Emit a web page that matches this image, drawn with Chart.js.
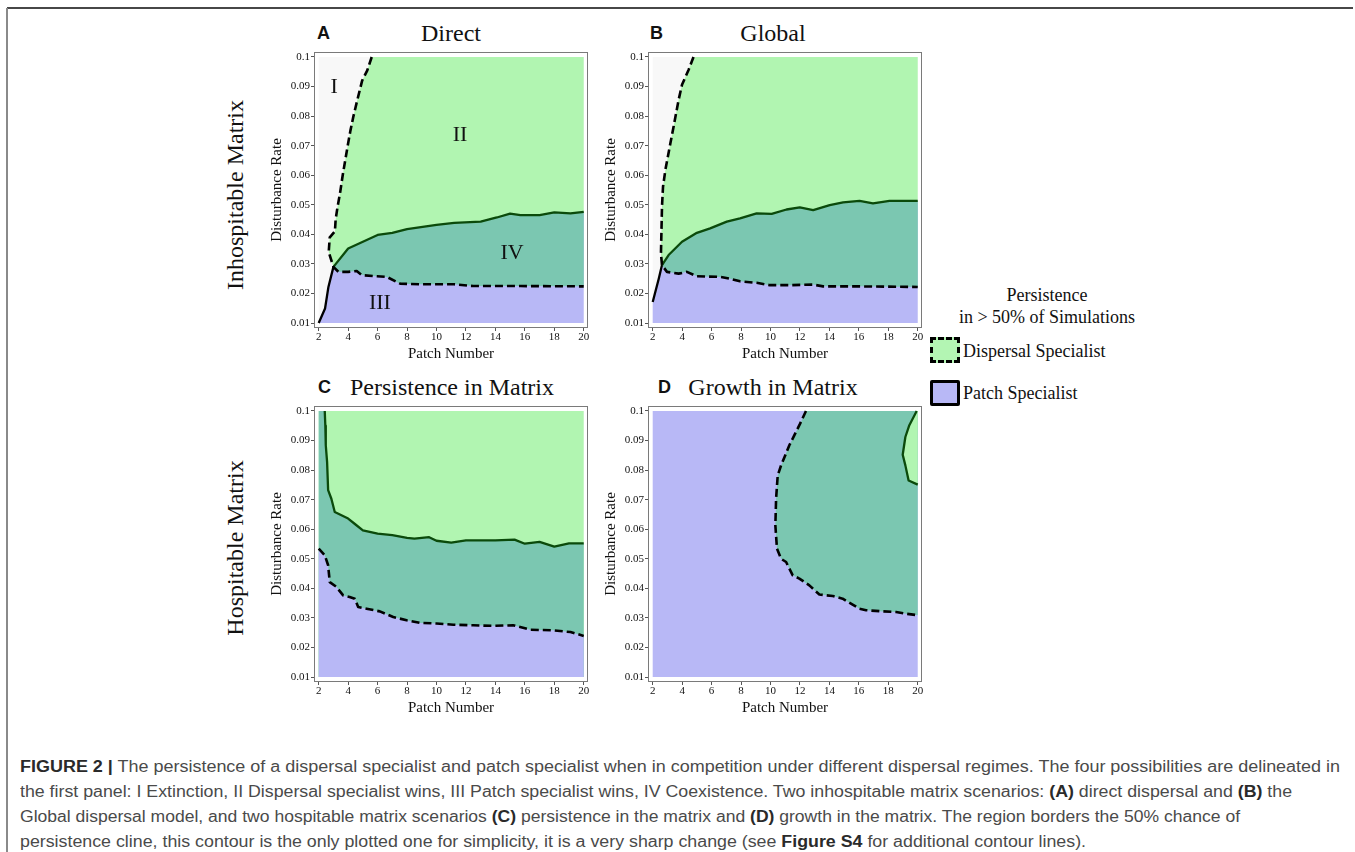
<!DOCTYPE html>
<html>
<head>
<meta charset="utf-8">
<script src="https://cdn.jsdelivr.net/npm/chart.js@4.4.1/dist/chart.umd.min.js"></script>
<style>
  html, body { margin: 0; padding: 0; }
  body { width: 1355px; height: 852px; position: relative; overflow: hidden; background: #fff; font-family: "Liberation Serif", "Times New Roman", serif; color: #111; }
  .frameTop { position: absolute; left: 7px; top: 7px; width: 1346px; height: 0; border-top: 2px solid #474747; }
  .frameLeft { position: absolute; left: 6px; top: 8px; width: 0; height: 850px; border-left: 2px solid #8a8a8a; }
  canvas { position: absolute; }
  .t { position: absolute; white-space: nowrap; line-height: 1; }
  .c { transform: translate(-50%, -50%); }
  .rot { transform: translate(-50%, -50%) rotate(-90deg); }
  .letter { font-family: "Liberation Sans", Arial, sans-serif; font-weight: bold; font-size: 18px; transform: translateY(-50%); color: #111; }
  .ptitle { font-size: 24px; }
  .row { font-size: 24px; }
  .leg { font-size: 18px; }
  .box { position: absolute; box-sizing: border-box; }
  .cap { position: absolute; left: 20px; white-space: nowrap; font-family: "Liberation Sans", Arial, sans-serif; font-size: 16px; line-height: 18px; color: #4a4a4a; transform-origin: 0 50%; }
  .cap b { color: #2a2a2a; }
</style>
</head>
<body>
<div class="frameTop"></div>
<div class="frameLeft"></div>

<!-- row labels -->
<div class="t rot row" style="left:235px; top:195px;">Inhospitable Matrix</div>
<div class="t rot row" style="left:235px; top:548px;">Hospitable Matrix</div>

<!-- panel headings -->
<div class="t letter" style="left:317px; top:33px;">A</div>
<div class="t c ptitle" style="left:451px; top:33px;">Direct</div>
<div class="t letter" style="left:650px; top:33px;">B</div>
<div class="t c ptitle" style="left:773px; top:33px;">Global</div>
<div class="t letter" style="left:318px; top:387px;">C</div>
<div class="t c ptitle" style="left:452px; top:387px;">Persistence in Matrix</div>
<div class="t letter" style="left:658px; top:387px;">D</div>
<div class="t c ptitle" style="left:773px; top:387px;">Growth in Matrix</div>

<canvas id="cA" width="332" height="322" style="left:262px; top:44px;"></canvas>
<canvas id="cB" width="332" height="322" style="left:596px; top:44px;"></canvas>
<canvas id="cC" width="332" height="322" style="left:262px; top:398px;"></canvas>
<canvas id="cD" width="332" height="322" style="left:596px; top:398px;"></canvas>

<!-- legend -->
<div class="t c leg" style="left:1047px; top:295px;">Persistence</div>
<div class="t c leg" style="left:1047px; top:317px;">in &gt; 50% of Simulations</div>
<div class="box" style="left:930px; top:337px; width:30px; height:26px; border:3px dashed #000; background:#b3f5b3;"></div>
<div class="t leg" style="left:963px; top:351px; transform:translateY(-50%);">Dispersal Specialist</div>
<div class="box" style="left:930px; top:380px; width:30px; height:26px; border:3px solid #000; border-radius:2px; background:#b8b8f6;"></div>
<div class="t leg" style="left:963px; top:393px; transform:translateY(-50%);">Patch Specialist</div>

<!-- caption (data-w = line width measured on the reference) -->
<div class="cap" data-w="1320" style="top:758px;"><b>FIGURE 2 |</b> The persistence of a dispersal specialist and patch specialist when in competition under different dispersal regimes. The four possibilities are delineated in</div>
<div class="cap" data-w="1272" style="top:783px;">the first panel: I Extinction, II Dispersal specialist wins, III Patch specialist wins, IV Coexistence. Two inhospitable matrix scenarios: <b>(A)</b> direct dispersal and <b>(B)</b> the</div>
<div class="cap" data-w="1220" style="top:808px;">Global dispersal model, and two hospitable matrix scenarios <b>(C)</b> persistence in the matrix and <b>(D)</b> growth in the matrix. The region borders the 50% chance of</div>
<div class="cap" data-w="1066" style="top:833px;">persistence cline, this contour is the only plotted one for simplicity, it is a very sharp change (see <b>Figure S4</b> for additional contour lines).</div>

<script>
// ---------- axes ----------
const xTicks = [2, 4, 6, 8, 10, 12, 14, 16, 18, 20];
const xTickLabels = ['2', '4', '6', '8', '10', '12', '14', '16', '18', '20'];
const yTicks = [0.01, 0.02, 0.03, 0.04, 0.05, 0.06, 0.07, 0.08, 0.09, 0.1];
const yTickLabels = ['0.01', '0.02', '0.03', '0.04', '0.05', '0.06', '0.07', '0.08', '0.09', '0.1'];
const xDomain = [2, 20];
const yDomain = [0.01, 0.1];

// ---------- Panel A: Direct ----------
// dispersal specialist 50% contour (dashed), upper-left branch then lower branch
const A_dispUpperX = [5.6, 5.3, 4.95, 4.8, 4.6, 4.36, 4.15, 3.97, 3.8, 3.63, 3.45, 3.27, 3.15, 3.1, 2.75, 2.68, 3.0];
const A_dispUpperY = [0.1, 0.0955, 0.092, 0.089, 0.085, 0.080, 0.075, 0.070, 0.065, 0.060, 0.054, 0.049, 0.045, 0.041, 0.039, 0.034, 0.029];
const A_dispLowerX = [3.34, 4.0, 4.58, 4.93, 5.95, 6.63, 7.53, 8.9, 11.2, 12.5, 15.7, 20];
const A_dispLowerY = [0.0273, 0.0273, 0.0276, 0.0262, 0.0258, 0.0256, 0.0233, 0.0231, 0.0231, 0.0225, 0.0225, 0.0224];
// patch specialist 50% contour (solid)
const A_patchLowX = [2, 2.43, 2.66, 3.0];
const A_patchLowY = [0.01, 0.0149, 0.0222, 0.029];
const A_patchHighX = [3.0, 4.0, 5.0, 6.0, 7.0, 8.0, 10.0, 11.2, 13.0, 14.1, 15.0, 15.7, 17.0, 18.0, 19.1, 20];
const A_patchHighY = [0.029, 0.0352, 0.0375, 0.0398, 0.0405, 0.0418, 0.0432, 0.0439, 0.0443, 0.0457, 0.0470, 0.0465, 0.0465, 0.0474, 0.0471, 0.0476];
const A_regionLabels = ['I', 'II', 'III', 'IV'];
const A_regionX = [3.05, 11.6, 6.16, 15.13];
const A_regionY = [0.0898, 0.0736, 0.0168, 0.0337];

// ---------- Panel B: Global ----------
const B_dispUpperX = [4.77, 4.44, 3.99, 3.76, 3.42, 3.2, 2.86, 2.70, 2.63, 2.56, 2.63];
const B_dispUpperY = [0.1, 0.0957, 0.0906, 0.0855, 0.0765, 0.0708, 0.0618, 0.0561, 0.0493, 0.0335, 0.0296];
const B_dispLowerX = [2.97, 3.76, 4.32, 5.0, 6.58, 7.26, 7.93, 9.06, 9.96, 11.3, 12.9, 13.57, 15.8, 20];
const B_dispLowerY = [0.0273, 0.0267, 0.0273, 0.0258, 0.0256, 0.025, 0.0241, 0.0236, 0.0228, 0.0228, 0.023, 0.0224, 0.0224, 0.0222];
const B_patchLowX = [2, 2.41, 2.63];
const B_patchLowY = [0.0171, 0.025, 0.0296];
const B_patchHighX = [2.63, 3.08, 3.99, 5.0, 5.9, 7.03, 7.93, 9.06, 10.08, 11.09, 11.99, 12.9, 14.02, 14.93, 16.05, 16.96, 18.08, 20];
const B_patchHighY = [0.0296, 0.033, 0.0375, 0.0405, 0.042, 0.0443, 0.0454, 0.0471, 0.0469, 0.0484, 0.0491, 0.0482, 0.0499, 0.0508, 0.0513, 0.0505, 0.0513, 0.0513];

// ---------- Panel C: Persistence in Matrix ----------
const C_patchX = [2.41, 2.45, 2.48, 2.57, 2.64, 2.86, 3.09, 4.0, 4.5, 5.0, 6.0, 7.0, 8.0, 8.5, 9.5, 10.0, 11.0, 12.0, 14.0, 15.3, 16.0, 17.0, 18.0, 19.0, 20];
const C_patchY = [0.1, 0.095, 0.0884, 0.0827, 0.0732, 0.0703, 0.0658, 0.0636, 0.0616, 0.0596, 0.0585, 0.058, 0.0571, 0.0568, 0.0573, 0.0561, 0.0555, 0.0562, 0.0562, 0.0565, 0.0551, 0.0557, 0.0541, 0.0552, 0.0552];
const C_dispX = [2, 2.41, 2.64, 2.75, 3.2, 3.66, 4.1, 4.45, 4.68, 5.25, 6.15, 7.06, 7.97, 8.88, 10.0, 11.15, 12.5, 13.87, 15.2, 16.37, 17.96, 19.1, 20];
const C_dispY = [0.0534, 0.0512, 0.0478, 0.0421, 0.0405, 0.0376, 0.0371, 0.0365, 0.0337, 0.0331, 0.0322, 0.0303, 0.0292, 0.0283, 0.0281, 0.0277, 0.0275, 0.0273, 0.0275, 0.026, 0.0258, 0.0252, 0.0239];

// ---------- Panel D: Growth in Matrix ----------
const D_dispX = [12.41, 11.96, 11.28, 10.72, 10.49, 10.38, 10.33, 10.44, 10.72, 11.06, 11.51, 11.96, 12.64, 13.32, 14.23, 14.9, 15.58, 16.04, 16.49, 17.62, 18.53, 19.2, 20];
const D_dispY = [0.1, 0.0952, 0.0884, 0.0816, 0.0782, 0.0703, 0.0613, 0.0534, 0.050, 0.0489, 0.0444, 0.0433, 0.041, 0.0379, 0.0374, 0.0365, 0.0345, 0.0331, 0.0326, 0.0322, 0.032, 0.0314, 0.0309];
const D_patchX = [19.93, 19.43, 19.16, 18.98, 19.16, 19.38, 20];
const D_patchY = [0.1, 0.0952, 0.0912, 0.0852, 0.0816, 0.0765, 0.0751];

// ---------- styling ----------
const COL = { gray: '#f8f8f8', green: '#b1f5b1', teal: '#7bc7b1', purple: '#b8b8f6', dark: '#0b4a0b', black: '#000000' };
const serif = '"Liberation Serif", "Times New Roman", serif';

function P(xs, ys) { return xs.map((x, i) => ({ x: x, y: ys[i] })); }
function pt(x, y) { return { x: x, y: y }; }
const BOX = [pt(xDomain[0], yDomain[0]), pt(xDomain[0], yDomain[1]), pt(xDomain[1], yDomain[1]), pt(xDomain[1], yDomain[0])];

function poly(points, color) {
  return { data: points, fill: 'shape', backgroundColor: color, borderColor: 'rgba(0,0,0,0)', borderWidth: 0.01, pointRadius: 0, tension: 0 };
}
function line(points, color, dashed) {
  return { data: points, fill: false, borderColor: color, borderWidth: dashed ? 2.6 : 2.3, borderDash: dashed ? [8, 4] : [], pointRadius: 0, tension: 0, borderJoinStyle: 'round' };
}

const framePlugin = {
  id: 'frame',
  afterDraw(chart) {
    const { ctx, chartArea: a } = chart;
    ctx.save();
    ctx.strokeStyle = '#7a7a7a';
    ctx.lineWidth = 1;
    ctx.strokeRect(Math.round(a.left) + 0.5, Math.round(a.top) + 0.5, Math.round(a.width) - 1, Math.round(a.height) - 1);
    ctx.restore();
  }
};

function regionLabelPlugin(labels, xs, ys) {
  return {
    id: 'regionLabels',
    afterDatasetsDraw(chart) {
      const { ctx, scales } = chart;
      ctx.save();
      ctx.font = '22px ' + serif;
      ctx.fillStyle = '#111';
      ctx.textAlign = 'center';
      ctx.textBaseline = 'middle';
      labels.forEach((t, i) => ctx.fillText(t, scales.x.getPixelForValue(xs[i]), scales.y.getPixelForValue(ys[i])));
      ctx.restore();
    }
  };
}

function makeChart(id, datasets, extraPlugins) {
  const n = datasets.length;
  datasets.forEach((d, i) => { d.order = n - i; });
  const tickFont = { family: serif, size: 11 };
  const titleFont = { family: serif, size: 15 };
  return new Chart(document.getElementById(id), {
    type: 'line',
    data: { datasets: datasets },
    plugins: [framePlugin].concat(extraPlugins || []),
    options: {
      responsive: false,
      animation: false,
      devicePixelRatio: 1,
      events: [],
      layout: { padding: { top: 8, right: 6, bottom: 0, left: 0 } },
      plugins: { legend: { display: false }, tooltip: { enabled: false }, title: { display: false } },
      scales: {
        x: {
          type: 'linear', min: 1.68, max: 20.29,
          afterBuildTicks: ax => { ax.ticks = xTicks.map(v => ({ value: v })); },
          afterFit: s => { s.height = 38; },
          ticks: { font: tickFont, color: '#111', padding: 0, maxRotation: 0, autoSkip: false, callback: (v, i) => xTickLabels[i] },
          grid: { drawOnChartArea: false, drawTicks: true, tickLength: 3, color: '#555' },
          border: { display: false },
          title: { display: true, text: 'Patch Number', font: titleFont, color: '#111', padding: { top: 0, bottom: 3 } }
        },
        y: {
          type: 'linear', min: 0.00831, max: 0.10169,
          afterBuildTicks: ax => { ax.ticks = yTicks.map(v => ({ value: v })); },
          afterFit: s => { s.width = 52; },
          ticks: { font: tickFont, color: '#111', padding: 1, autoSkip: false, callback: (v, i) => yTickLabels[i] },
          grid: { drawOnChartArea: false, drawTicks: true, tickLength: 3, color: '#555' },
          border: { display: false },
          title: { display: true, text: 'Disturbance Rate', font: titleFont, color: '#111', padding: { top: 6, bottom: 0 } }
        }
      }
    }
  });
}

// Panel A
(function () {
  const up = P(A_dispUpperX, A_dispUpperY), lo = P(A_dispLowerX, A_dispLowerY);
  const pl = P(A_patchLowX, A_patchLowY), ph = P(A_patchHighX, A_patchHighY);
  makeChart('cA', [
    poly(BOX, COL.gray),
    poly([...up, ...lo, pt(xDomain[1], yDomain[1])], COL.green),
    poly([pt(xDomain[0], yDomain[0]), ...pl, ...ph, pt(xDomain[1], yDomain[0])], COL.purple),
    poly([...ph, ...lo.slice().reverse()], COL.teal),
    line(pl, COL.black, false),
    line(ph, COL.dark, false),
    line([...up, ...lo], COL.black, true)
  ], [regionLabelPlugin(A_regionLabels, A_regionX, A_regionY)]);
})();

// Panel B
(function () {
  const up = P(B_dispUpperX, B_dispUpperY), lo = P(B_dispLowerX, B_dispLowerY);
  const pl = P(B_patchLowX, B_patchLowY), ph = P(B_patchHighX, B_patchHighY);
  makeChart('cB', [
    poly(BOX, COL.gray),
    poly([...up, ...lo, pt(xDomain[1], yDomain[1])], COL.green),
    poly([pt(xDomain[0], yDomain[0]), ...pl, ...ph, pt(xDomain[1], yDomain[0])], COL.purple),
    poly([...ph, ...lo.slice().reverse()], COL.teal),
    line(pl, COL.black, false),
    line(ph, COL.dark, false),
    line([...up, ...lo], COL.black, true)
  ]);
})();

// Panel C
(function () {
  const pc = P(C_patchX, C_patchY), dc = P(C_dispX, C_dispY);
  makeChart('cC', [
    poly(BOX, COL.green),
    poly([pt(xDomain[0], yDomain[1]), ...pc, pt(xDomain[1], yDomain[0]), pt(xDomain[0], yDomain[0])], COL.teal),
    poly([...dc, pt(xDomain[1], yDomain[0]), pt(xDomain[0], yDomain[0])], COL.purple),
    line(pc, COL.dark, false),
    line(dc, COL.black, true)
  ]);
})();

// Panel D
(function () {
  const dd = P(D_dispX, D_dispY), pd = P(D_patchX, D_patchY);
  makeChart('cD', [
    poly(BOX, COL.purple),
    poly([...dd, pt(xDomain[1], yDomain[1])], COL.teal),
    poly([...pd, pt(xDomain[1], yDomain[1])], COL.green),
    line(pd, COL.dark, false),
    line(dd, COL.black, true)
  ]);
})();

// fit each caption line to the width it has in the reference
document.querySelectorAll('.cap').forEach(el => {
  const target = parseFloat(el.dataset.w);
  const w = el.getBoundingClientRect().width;
  if (w > 0) el.style.transform = 'scaleX(' + (target / w).toFixed(4) + ')';
});
</script>
</body>
</html>
